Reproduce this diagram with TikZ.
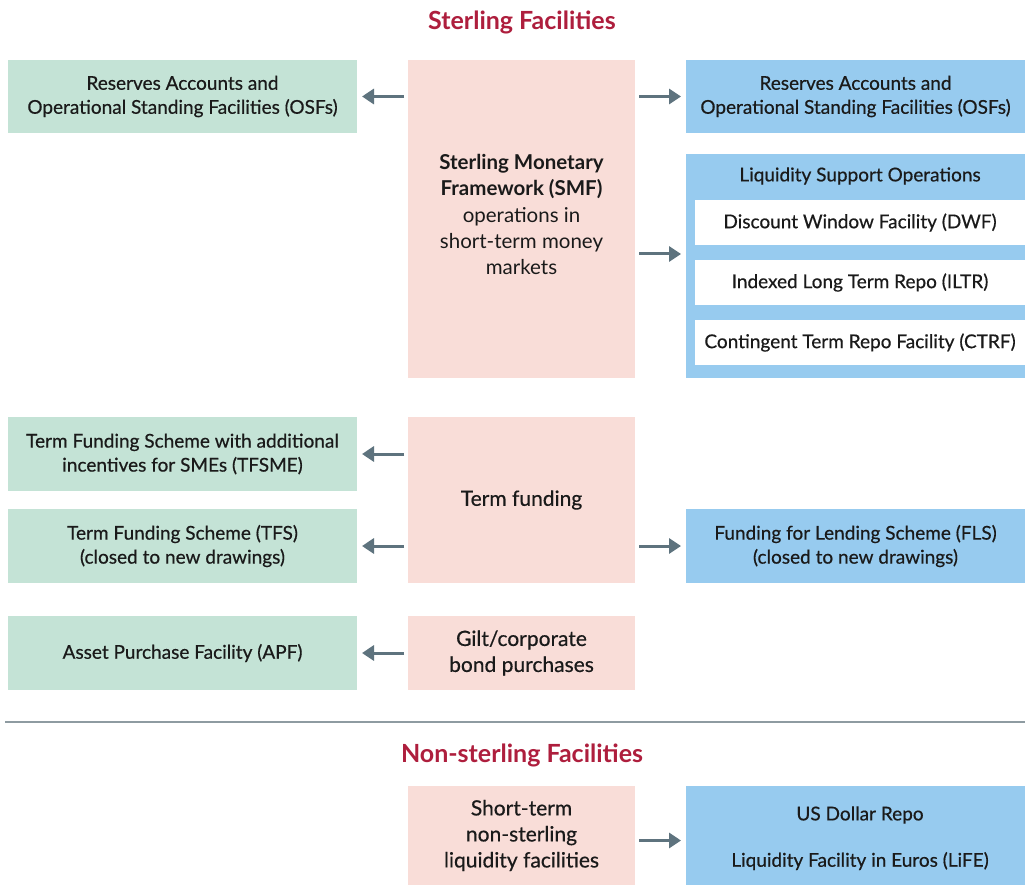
\documentclass[tikz,border=0pt]{standalone}
\usepackage{fontspec}
\setmainfont{Lato}
\newfontfamily\medfont{Lato}[FakeBold=0.5]
\usetikzlibrary{arrows.meta,calc}
\definecolor{gbox}{HTML}{C4E3D6}
\definecolor{pbox}{HTML}{F9DDD8}
\definecolor{bbox}{HTML}{97CBEF}
\definecolor{arrc}{HTML}{5E737E}
\definecolor{ttl}{HTML}{AE1E3D}
\definecolor{txt}{HTML}{1A1A1A}
\definecolor{sepc}{HTML}{8E9BA1}
\tikzset{
  x=1pt,y=-1pt,
  every node/.style={inner sep=0pt,outer sep=0pt,text=txt,align=center,font=\medfont\fontsize{19}{24}\selectfont},
  gnode/.style={fill=gbox,minimum width=349pt,minimum height=74pt},
  pnode/.style={fill=pbox,minimum width=227pt,font=\medfont\fontsize{21}{26}\selectfont},
  bnode/.style={fill=bbox,minimum width=339pt},
  wnode/.style={fill=white,minimum width=330pt,minimum height=45pt},
  titlenode/.style={text=ttl,font=\fontsize{25}{28}\selectfont\bfseries},
  arr/.style={draw=arrc,line width=3pt,-{Triangle[length=12pt,width=15pt]},shorten <=4pt,shorten >=5pt}
}
\begin{document}
\begin{tikzpicture}
\useasboundingbox (0,0) rectangle (1025,885);
\fill[white] (0,0) rectangle (1025,885);
\node[titlenode] (t1) at (522,22) {Sterling Facilities};
% top row
\node[gnode,minimum height=73pt] (gosf) at (182.5,96.5) {Reserves Accounts and\\Operational Standing Facilities (OSFs)};
\node[pnode,minimum height=318pt] (smf) at (521.5,219) {};
\node[font=\fontsize{20.5}{26.3}\selectfont] (smft) at (521.5,214.5) {\textbf{Sterling Monetary}\\\textbf{Framework (SMF)}\\operations in\\short-term money\\markets};
\node[bnode,minimum height=73pt] (bosf) at (855.5,96.5) {Reserves Accounts and\\Operational Standing Facilities (OSFs)};
\node[bnode,minimum height=224pt] (lso) at (855.5,266) {};
\node (lsot) at (860,176) {Liquidity Support Operations};
\node[wnode] (dwf) at (860,222.5) {Discount Window Facility (DWF)};
\node[wnode] (iltr) at (860,282.5) {Indexed Long Term Repo (ILTR)};
\node[wnode] (ctrf) at (860,342.5) {Contingent Term Repo Facility (CTRF)};
\draw[arr] (smf.west |- gosf.east) -- (gosf.east);
\draw[arr] (smf.east |- bosf.west) -- (bosf.west);
\draw[arr] (smf.east |- 0,254) -- ([yshift=12pt]lso.west);
% term funding
\node[gnode] (tfsme) at (182.5,454) {Term Funding Scheme with additional\\incentives for SMEs (TFSME)};
\node[gnode] (tfs) at (182.5,546) {Term Funding Scheme (TFS)\\(closed to new drawings)};
\node[pnode,minimum height=166pt] (tf) at (521.5,500) {Term funding};
\node[bnode,minimum height=74pt] (fls) at (855.5,546) {Funding for Lending Scheme (FLS)\\(closed to new drawings)};
\draw[arr] (tf.west |- tfsme.east) -- (tfsme.east);
\draw[arr] (tf.west |- tfs.east) -- (tfs.east);
\draw[arr] (tf.east |- fls.west) -- (fls.west);
% APF
\node[gnode] (apf) at (182.5,653) {Asset Purchase Facility (APF)};
\node[pnode,minimum height=74pt] (gilt) at (521.5,653) {Gilt/corporate\\bond purchases};
\draw[arr] (gilt.west) -- (apf.east);
% separator
\coordinate (sepl) at (5,722);
\coordinate (sepr) at (1025,722);
\draw[sepc,line width=2pt] (sepl) -- (sepr);
\node[titlenode] (t2) at (522,755) {Non-sterling Facilities};
\node[pnode,minimum height=99pt] (st) at (521.5,835.5) {Short-term\\non-sterling\\liquidity facilities};
\node[bnode,minimum height=99pt] (usd) at (855.5,835.5) {};
\node (usdt) at (860,815) {US Dollar Repo};
\node (life) at (860,861) {Liquidity Facility in Euros (LiFE)};
\draw[arr] ([yshift=-5pt]st.east) -- ([yshift=-5pt]usd.west);
\end{tikzpicture}
\end{document}
